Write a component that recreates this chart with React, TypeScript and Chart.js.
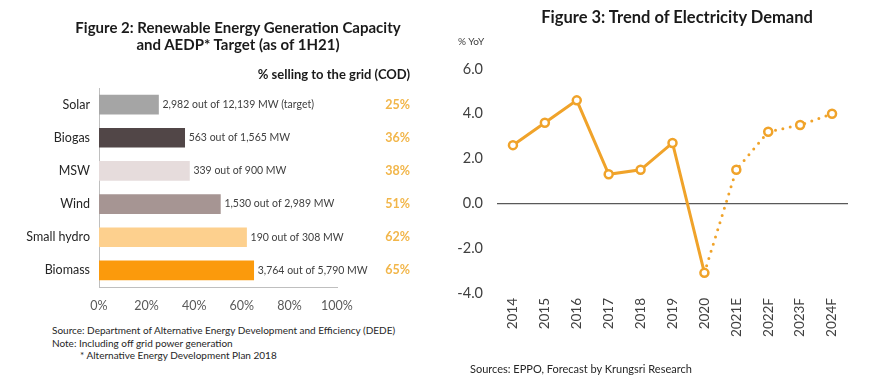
import React, { useEffect, useRef } from "react";
import { Chart, registerables } from "chart.js";

Chart.register(...registerables);

const FONT = "Lato, 'Open Sans', sans-serif";
const ORANGE = "#f0a32a";

// ---- Figure 2 data ----
const sources = ["Solar", "Biogas", "MSW", "Wind", "Small hydro", "Biomass"];
const gridSharePct = [25, 36, 38, 51, 62, 65];
const capacityNotes = [
  "2,982 out of 12,139 MW (target)",
  "563 out of 1,565 MW",
  "339 out of 900 MW",
  "1,530 out of 2,989 MW",
  "190 out of 308 MW",
  "3,764 out of 5,790 MW",
];
const barColors = ["#a5a5a5", "#514647", "#e6dcdc", "#a69593", "#fdd08e", "#fb9a0c"];
const shareAxisMin = 0;
const shareAxisMax = 100;
const shareAxisStep = 20;

// ---- Figure 3 data ----
const years = ["2014", "2015", "2016", "2017", "2018", "2019", "2020", "2021E", "2022F", "2023F", "2024F"];
const actualGrowth = [2.6, 3.6, 4.6, 1.3, 1.5, 2.7, -3.1, null, null, null, null];
const forecastGrowth = [null, null, null, null, null, null, -3.1, 1.5, 3.2, 3.5, 4.0];
const yoyMin = -4;
const yoyMax = 6;
const yoyStep = 2;

type TProps = {
  x: number;
  y: number;
  size: number;
  bold?: boolean;
  color?: string;
  align?: "left" | "center" | "right";
  children: React.ReactNode;
};

const T = ({ x, y, size, bold, color = "#262626", align = "left", children }: TProps) => (
  <div
    style={{
      position: "absolute",
      left: x,
      top: y,
      fontFamily: FONT,
      fontSize: size,
      fontWeight: bold ? 700 : 400,
      color,
      whiteSpace: "nowrap",
      lineHeight: 1,
      transform: `translate(${align === "center" ? "-50%" : align === "right" ? "-100%" : "0"}, -50%)`,
    }}
  >
    {children}
  </div>
);

export default function App() {
  const barRef = useRef<HTMLCanvasElement | null>(null);
  const lineRef = useRef<HTMLCanvasElement | null>(null);

  useEffect(() => {
    const barLabels = {
      id: "barLabels",
      afterDatasetsDraw(chart: any) {
        const { ctx, chartArea } = chart;
        const meta = chart.getDatasetMeta(0);
        ctx.save();
        meta.data.forEach((bar: any, i: number) => {
          ctx.font = `10.5px ${FONT}`;
          ctx.fillStyle = "#404040";
          ctx.textAlign = "left";
          ctx.textBaseline = "middle";
          ctx.fillText(capacityNotes[i], bar.x + 4, bar.y);
          ctx.font = `bold 12.5px ${FONT}`;
          ctx.fillStyle = "#f2b64a";
          ctx.textAlign = "right";
          ctx.fillText(`${gridSharePct[i]}%`, chartArea.right + 73, bar.y);
        });
        ctx.restore();
      },
    };

    const barChart = new Chart(barRef.current as HTMLCanvasElement, {
      type: "bar",
      data: {
        labels: sources,
        datasets: [
          {
            data: gridSharePct,
            backgroundColor: barColors,
            barThickness: 19,
          },
        ],
      },
      options: {
        indexAxis: "y",
        responsive: false,
        animation: false,
        layout: { padding: { left: 19, right: 103, top: 88, bottom: 3 } },
        plugins: { legend: { display: false }, tooltip: { enabled: false } },
        scales: {
          x: {
            min: shareAxisMin,
            max: shareAxisMax,
            ticks: {
              stepSize: shareAxisStep,
              callback: (v: any) => `${v}%`,
              color: "#595959",
              font: { family: FONT, size: 12.5 },
              padding: 11,
              maxRotation: 0,
            },
            grid: { display: false, drawTicks: false },
            border: { display: true, color: "#bfbfbf", width: 1 },
            afterFit: (s: any) => {
              s.height = 30;
            },
          },
          y: {
            ticks: { color: "#262626", font: { family: FONT, size: 12.5 }, padding: 9 },
            grid: { display: false, drawTicks: false },
            border: { display: true, color: "#bfbfbf", width: 1 },
            afterFit: (s: any) => {
              s.width = 80;
            },
          },
        },
      } as any,
      plugins: [barLabels],
    });

    const lineChart = new Chart(lineRef.current as HTMLCanvasElement, {
      type: "line",
      data: {
        labels: years,
        datasets: [
          {
            data: actualGrowth,
            borderColor: ORANGE,
            borderWidth: 3,
            pointRadius: 4,
            pointBackgroundColor: "#ffffff",
            pointBorderColor: ORANGE,
            pointBorderWidth: 2.5,
            order: 1,
          },
          {
            data: forecastGrowth,
            borderColor: ORANGE,
            borderWidth: 3,
            borderDash: [0, 7.5],
            borderCapStyle: "round",
            pointRadius: (c: any) => (c.dataIndex === 6 ? 0 : 4),
            pointBackgroundColor: "#ffffff",
            pointBorderColor: ORANGE,
            pointBorderWidth: 2.5,
            order: 2,
          },
        ],
      },
      options: {
        responsive: false,
        animation: false,
        spanGaps: false,
        layout: { padding: { left: 12, right: 21, top: 69, bottom: 22 } },
        plugins: { legend: { display: false }, tooltip: { enabled: false } },
        scales: {
          x: {
            offset: true,
            grid: { display: false, drawTicks: false },
            border: { display: false },
            ticks: {
              minRotation: 90,
              maxRotation: 90,
              autoSkip: false,
              padding: 5,
              color: "#404040",
              font: { family: FONT, size: 13.5 },
            },
            afterFit: (s: any) => {
              s.height = 60;
            },
          },
          y: {
            min: yoyMin,
            max: yoyMax,
            ticks: {
              stepSize: yoyStep,
              callback: (v: any) => Number(v).toFixed(1),
              padding: 14,
              color: "#404040",
              font: { family: FONT, size: 14.5 },
            },
            grid: {
              drawTicks: false,
              color: (c: any) => (c.tick && c.tick.value === 0 ? "#595959" : "rgba(0,0,0,0)"),
              lineWidth: 1.3,
            },
            border: { display: false },
            afterFit: (s: any) => {
              s.width = 45;
            },
          },
        },
      } as any,
    });

    return () => {
      barChart.destroy();
      lineChart.destroy();
    };
  }, []);

  return (
    <div
      style={{
        position: "absolute",
        left: 0,
        top: 0,
        width: 869,
        height: 375,
        background: "#ffffff",
        overflow: "hidden",
      }}
    >
      <canvas ref={barRef} width={440} height={320} style={{ position: "absolute", left: 0, top: 0 }} />
      <canvas ref={lineRef} width={429} height={375} style={{ position: "absolute", left: 440, top: 0 }} />

      <T x={238} y={27} size={15} bold color="#1a1a1a" align="center">
        Figure 2: Renewable Energy Generation Capacity
      </T>
      <T x={238} y={44} size={15} bold color="#1a1a1a" align="center">
        and AEDP* Target (as of 1H21)
      </T>
      <T x={410} y={74} size={13} bold color="#1a1a1a" align="right">
        % selling to the grid (COD)
      </T>
      <T x={52} y={330} size={10}>
        Source: Department of Alternative Energy Development and Efficiency (DEDE)
      </T>
      <T x={52} y={343} size={10}>
        Note: Including off grid power generation
      </T>
      <T x={80} y={355} size={10}>
        * Alternative Energy Development Plan 2018
      </T>

      <T x={677} y={17} size={16.5} bold color="#1a1a1a" align="center">
        Figure 3: Trend of Electricity Demand
      </T>
      <T x={458} y={41} size={10} color="#404040">
        % YoY
      </T>
      <T x={470} y={368} size={11}>
        Sources: EPPO, Forecast by Krungsri Research
      </T>
    </div>
  );
}
